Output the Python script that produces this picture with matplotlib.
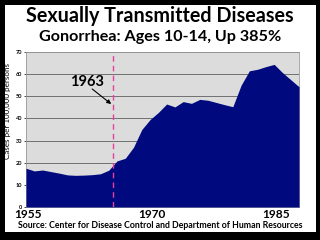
import matplotlib
matplotlib.use("Agg")
import matplotlib.pyplot as plt
from matplotlib.patches import Rectangle

# ── Data ──────────────────────────────────────────────
years = list(range(1955, 1989))
rates = [
    17.5, 16.3, 16.7, 16.0, 15.3, 14.5, 14.3, 14.4, 14.6, 15.0,
    16.6, 20.8, 22.0, 27.0, 35.0, 39.5, 42.7, 46.5, 45.2, 47.6,
    46.8, 48.6, 48.2, 47.2, 46.2, 45.3, 55.0, 61.5, 62.2, 63.4,
    64.4, 60.7, 57.5, 54.3
]
tick_years = [1955, 1970, 1985]
y_ticks = [0, 10, 20, 30, 40, 50, 60, 70]
marker_year = 1965.5
marker_label = "1963"

title = "Sexually Transmitted Diseases"
subtitle = "Gonorrhea: Ages 10-14, Up 385%"
source = "Source: Center for Disease Control and Department of Human Resources"

plt.rcParams["font.family"] = ["Lato", "DejaVu Sans"]

fig = plt.figure(figsize=(3.2, 2.4), dpi=100)
fig.patch.set_facecolor("black")
fig.add_artist(Rectangle((5 / 320, 8 / 240), 311 / 320, 227 / 240,
                         transform=fig.transFigure, facecolor="white",
                         edgecolor="none", zorder=-1))

ax = fig.add_axes([26 / 320, 1 - 207 / 240, 273 / 320, 155 / 240])
ax.set_zorder(1)
ax.set_facecolor("#DCDCDC")
ax.fill_between(years, rates, 0, color="#000A7E", linewidth=0, zorder=3)

ax.set_xlim(1955, 1988)
ax.set_ylim(0, 70)
ax.set_yticks(y_ticks)
ax.set_yticklabels([str(v) for v in y_ticks], fontsize=4, fontweight="bold")
ax.set_xticks([])
ax.tick_params(axis="y", length=1.5, width=0.5, pad=1)
ax.grid(axis="y", color="#707070", linewidth=0.7, zorder=1)
for s in ax.spines.values():
    s.set_color("#9A9A9A")
    s.set_linewidth(0.6)

ax.axvline(marker_year, color="#E8409A", linestyle=(0, (4, 3)),
           linewidth=1.0, zorder=4)

# label plus arrow pointing at the marker line
ax.text(1962.4, 56.5, marker_label, fontsize=10.5, fontweight="bold",
        ha="center", va="center", zorder=5)
ax.annotate("", xy=(marker_year - 0.2, 46.5), xytext=(1963.0, 53.3),
            arrowprops=dict(arrowstyle="-|>", color="black", lw=0.8,
                            mutation_scale=6, shrinkA=0, shrinkB=0),
            zorder=5)

for yr in tick_years:
    fig.text(26 / 320 + (yr - 1955) * 273 / 320 / 33 + 2 / 320, 1 - 215 / 240,
             str(yr), fontsize=8.6, fontweight="bold", ha="center", va="center")

ax.set_ylabel("Cases per 100,000 persons", fontsize=5.8)
ax.yaxis.set_label_coords(-0.055, 0.62)

fig.text(0.5, 1 - 16 / 240, title, fontsize=14.2, fontweight="bold",
         ha="center", va="center")
fig.text(0.5, 1 - 37 / 240, subtitle, fontsize=11.6, fontweight="bold",
         ha="center", va="center")
fig.text(0.5, 1 - 225 / 240, source, fontsize=6.3, fontweight="bold",
         ha="center", va="center")

plt.savefig("out.png", dpi=100, facecolor=fig.get_facecolor())
